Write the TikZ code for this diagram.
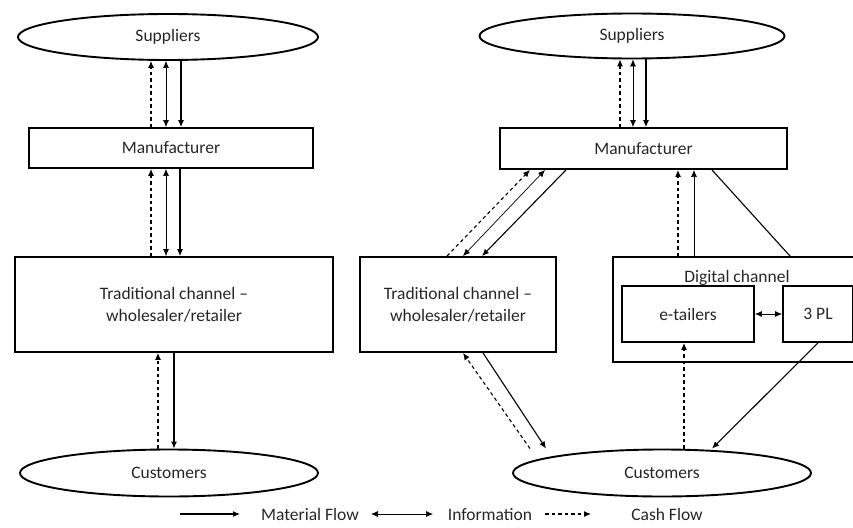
\documentclass[tikz,border=0pt]{standalone}
\usepackage{fontspec}
\setmainfont{Carlito}
\usetikzlibrary{arrows.meta,shapes.geometric}

\tikzset{
  oval/.style={draw, line width=1.9pt, ellipse, inner sep=0pt, minimum width=300pt, minimum height=46pt},
  box/.style={draw, line width=1.9pt, inner sep=0pt, align=center},
  matflow/.style={-{Latex[length=7pt,width=6pt]}, line width=1.1pt},
  infoflow/.style={{Latex[length=7pt,width=6pt]}-{Latex[length=7pt,width=6pt]}, line width=0.7pt},
  cashflow/.style={-{Latex[length=7pt,width=6pt]}, line width=1.1pt, dash pattern=on 3.5pt off 3pt},
}

\begin{document}
\begin{tikzpicture}[x=1pt, y=-1pt, font=\fontsize{17.5}{22}\selectfont, text=black!85]
  \useasboundingbox (0,0) rectangle (853,527);

  % left: traditional chain
  \node[oval] (lsup) at (168,37) {Suppliers};
  \node[box, minimum width=284pt, minimum height=40pt] (lman) at (171,148) {Manufacturer};
  \node[box, minimum width=318pt, minimum height=95pt] (ltrad) at (174,304.5) {Traditional channel --\\wholesaler/retailer};
  \node[oval, minimum width=298pt, minimum height=47pt] (lcus) at (169,473) {Customers};

  \draw[cashflow] (lman.north -| 151,0) -- (lsup.south -| 151,0);
  \draw[infoflow] (lman.north -| 166,0) -- (lsup.south -| 166,0);
  \draw[matflow] (lsup.south -| 181,0) -- (lman.north -| 181,0);

  \draw[cashflow] (ltrad.north -| 151,0) -- (lman.south -| 151,0);
  \draw[infoflow] (ltrad.north -| 166,0) -- (lman.south -| 166,0);
  \draw[matflow] (lman.south -| 180,0) -- (ltrad.north -| 180,0);

  \draw[cashflow] (lcus.north -| 158,0) -- (ltrad.south -| 158,0);
  \draw[matflow] (ltrad.south -| 174,0) -- (lcus.north -| 174,0);

  % right: traditional and digital chain
  \node[oval, minimum width=305pt, minimum height=45pt] (rsup) at (632,36) {Suppliers};
  \node[box, minimum width=287pt, minimum height=41pt] (rman) at (643.5,148.5) {Manufacturer};
  \node[box, minimum width=196pt, minimum height=95pt] (rtrad) at (458,304.5) {Traditional channel --\\wholesaler/retailer};
  \node[box, minimum width=243pt, minimum height=105pt] (dig) at (734.5,309.5) {};
  \node (diglab) at (737,278) {Digital channel};
  \node[box, minimum width=132pt, minimum height=56pt] (etail) at (688,314) {e-tailers};
  \node[box, minimum width=70pt, minimum height=56pt] (tpl) at (818,314) {3 PL};
  \node[oval, minimum width=298pt, minimum height=47pt] (rcus) at (662,473) {Customers};

  \draw[cashflow] (rman.north -| 620,0) -- (rsup.south -| 620,0);
  \draw[infoflow] (rman.north -| 633,0) -- (rsup.south -| 633,0);
  \draw[matflow] (rsup.south -| 646,0) -- (rman.north -| 646,0);

  \draw[cashflow] (rtrad.north -| 447,0) -- (rman.south -| 530,0);
  \draw[infoflow] (rtrad.north -| 463,0) -- (rman.south -| 545,0);
  \draw[matflow] (rman.south -| 566,0) -- (rtrad.north -| 482,0);

  \draw[cashflow] (dig.north -| 678,0) -- (rman.south -| 678,0);
  \draw[-{Latex[length=7pt,width=6pt]}, line width=0.7pt] (dig.north -| 694,0) -- (rman.south -| 694,0);
  \draw[line width=1.1pt] (rman.south -| 712,0) -- (dig.north -| 790,0);
  \draw[infoflow] (etail.east) -- (tpl.west);

  \draw[cashflow] (rcus.north -| 530,0) -- (rtrad.south -| 463,0);
  \draw[matflow] (rtrad.south -| 483,0) -- (rcus.north -| 546,0);
  \draw[cashflow] (rcus.north -| 684,0) -- (etail.south -| 684,0);
  \draw[matflow] (tpl.south -| 818,0) -- (rcus.north -| 712,0);

  % legend
  \coordinate (m1) at (180,514);
  \coordinate (m2) at (240,514);
  \coordinate (i1) at (371,514);
  \coordinate (i2) at (433,514);
  \coordinate (c1) at (545,514);
  \coordinate (c2) at (591,514);
  \draw[matflow] (m1) -- (m2);
  \draw[infoflow] (i1) -- (i2);
  \draw[cashflow] (c1) -- (c2);
  \node[anchor=base] (lgmat) at (310,520) {Material Flow};
  \node[anchor=base] (lginfo) at (490,520) {Information};
  \node[anchor=base] (lgcash) at (667,520) {Cash Flow};
\end{tikzpicture}
\end{document}
